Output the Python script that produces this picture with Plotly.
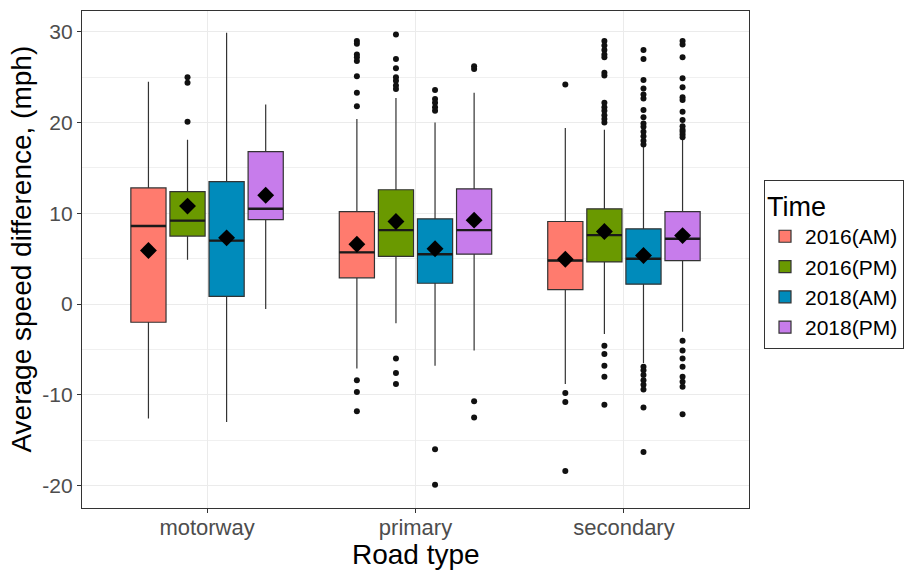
import plotly.graph_objects as go

categories = ["motorway", "primary", "secondary"]
groups = ["2016(AM)", "2016(PM)", "2018(AM)", "2018(PM)"]
colors = ["#FF7B6E", "#6A9900", "#008BBB", "#C77CEB"]
y_ticks = [-20, -10, 0, 10, 20, 30]
y_tick_labels = ["-20", "-10", "0", "10", "20", "30"]

# stats[group] = list over categories
q1 = {
    "2016(AM)": [-2.0, 2.9, 1.6],
    "2016(PM)": [7.5, 5.25, 4.65],
    "2018(AM)": [0.85, 2.3, 2.2],
    "2018(PM)": [9.3, 5.5, 4.8],
}
median = {
    "2016(AM)": [8.6, 5.7, 4.8],
    "2016(PM)": [9.2, 8.15, 7.6],
    "2018(AM)": [7.0, 5.5, 5.0],
    "2018(PM)": [10.5, 8.15, 7.2],
}
q3 = {
    "2016(AM)": [12.8, 10.2, 9.1],
    "2016(PM)": [12.4, 12.6, 10.5],
    "2018(AM)": [13.5, 9.4, 8.3],
    "2018(PM)": [16.8, 12.7, 10.2],
}
lower = {
    "2016(AM)": [-12.6, -7.1, -8.8],
    "2016(PM)": [4.9, -2.1, -3.3],
    "2018(AM)": [-13.0, -6.8, -6.5],
    "2018(PM)": [-0.55, -5.1, -3.05],
}
upper = {
    "2016(AM)": [24.5, 20.4, 19.4],
    "2016(PM)": [18.1, 22.7, 19.2],
    "2018(AM)": [29.9, 20.0, 17.3],
    "2018(PM)": [22.0, 23.3, 18.25],
}
means = {
    "2016(AM)": [5.9, 6.6, 4.95],
    "2016(PM)": [10.8, 9.1, 8.0],
    "2018(AM)": [7.3, 6.1, 5.35],
    "2018(PM)": [12.0, 9.25, 7.55],
}
outliers = {
    "2016(AM)": [
        [],
        [29.0, 28.7, 27.5, 27.2, 26.8, 25.1, 23.3, 21.8, -8.4, -9.7, -11.8],
        [24.2, -9.8, -10.8, -18.4],
    ],
    "2016(PM)": [
        [25.0, 24.4, 20.1],
        [29.7, 27.0, 26.0, 25.0, 24.6, 24.1, 23.7, -6.0, -7.6, -8.8],
        [29.0, 28.5, 28.0, 27.5, 27.2, 25.5, 25.2, 22.2, 21.7, 21.3, 20.8, 20.4, 20.0,
         -4.6, -5.5, -6.8, -8.0, -11.1],
    ],
    "2018(AM)": [
        [],
        [23.6, 22.6, 22.2, 21.7, 21.3, -16.0, -19.9],
        [28.0, 27.0, 24.7, 23.75, 23.1, 22.65, 21.4, 20.6, 19.9, 19.55, 19.0, 18.5, 18.0, 17.6,
         -6.9, -7.3, -7.8, -8.4, -8.9, -9.4, -11.4, -16.3],
    ],
    "2018(PM)": [
        [],
        [26.2, 25.9, -10.7, -12.5],
        [29.0, 28.6, 27.2, 24.9, 23.9, 22.8, 22.5, 21.2, 20.3, 19.6, 19.2, 19.0, 18.7, 18.4,
         -4.05, -5.1, -6.0, -6.9, -8.0, -8.55, -9.1, -12.15],
    ],
}

dodge = 0.75
n = len(groups)
slot = dodge / n
box_w = slot * 0.9
edge = "#333333"

fig = go.Figure()

for gi, g in enumerate(groups):
    pos = [ci + (gi - (n - 1) / 2) * slot for ci in range(len(categories))]
    fig.add_trace(go.Box(
        x=pos, q1=q1[g], median=median[g], q3=q3[g],
        lowerfence=lower[g], upperfence=upper[g],
        width=box_w, whiskerwidth=0, boxpoints=False,
        fillcolor=colors[gi], line=dict(color=edge, width=1.2),
        name=g, showlegend=True, hoverinfo="skip",
    ))
    # thicker median lines
    mx, my = [], []
    for ci, p in enumerate(pos):
        mx += [p - box_w / 2, p + box_w / 2, None]
        my += [median[g][ci], median[g][ci], None]
    fig.add_trace(go.Scatter(x=mx, y=my, mode="lines",
                             line=dict(color="#1a1a1a", width=2.4),
                             showlegend=False, hoverinfo="skip"))
    # outliers
    ox, oy = [], []
    for ci, p in enumerate(pos):
        for v in outliers[g][ci]:
            ox.append(p)
            oy.append(v)
    fig.add_trace(go.Scatter(x=ox, y=oy, mode="markers",
                             marker=dict(color="#111111", size=6),
                             showlegend=False, hoverinfo="skip"))
    # means
    fig.add_trace(go.Scatter(x=pos, y=means[g], mode="markers",
                             marker=dict(symbol="diamond", color="black", size=13),
                             showlegend=False, hoverinfo="skip"))

font_family = "Liberation Sans, Arial, sans-serif"

fig.update_layout(
    width=909, height=571,
    margin=dict(l=82, r=160, t=11, b=63, autoexpand=False),
    paper_bgcolor="white", plot_bgcolor="white",
    font=dict(family=font_family, color="black"),
    boxmode="overlay",
    xaxis=dict(
        range=[-0.6, 2.6], automargin=False,
        tickmode="array", tickvals=list(range(len(categories))), ticktext=categories,
        showgrid=True, gridcolor="#EBEBEB", gridwidth=1.2,
        showline=True, mirror=True, linecolor=edge, linewidth=1.2,
        ticks="outside", ticklen=4, tickcolor=edge,
        tickfont=dict(size=22, color="#4D4D4D"),
        ticklabelstandoff=-5,
        zeroline=False,
    ),
    yaxis=dict(
        range=[-22.47, 32.3], automargin=False,
        tickmode="array", tickvals=y_ticks, ticktext=y_tick_labels,
        showgrid=True, gridcolor="#EBEBEB", gridwidth=1.2,
        minor=dict(dtick=5, tick0=0, showgrid=True, gridcolor="#F0F0F0", gridwidth=1.1),
        showline=True, mirror=True, linecolor=edge, linewidth=1.2,
        ticks="outside", ticklen=4, tickcolor=edge,
        tickfont=dict(size=21, color="#4D4D4D"),
        zeroline=False,
    ),
    legend=dict(
        x=1.0225, xanchor="left", y=0.66, yanchor="top",
        bordercolor=edge, borderwidth=1,
        title=dict(text="Time", font=dict(size=27)),
        font=dict(size=21, color="black"),
        tracegroupgap=0,
    ),
    annotations=[
        dict(text="Road type", xref="paper", yref="paper", x=0.5, y=0,
             xanchor="center", yanchor="middle", yshift=-46, showarrow=False,
             font=dict(size=28, color="black")),
        dict(text="Average speed difference, (mph)", xref="paper", yref="paper",
             x=0, y=0.52, xanchor="center", yanchor="middle", xshift=-60,
             textangle=-90, showarrow=False, font=dict(size=28, color="black")),
    ],
)

fig.write_html(
    "out.html",
    config=dict(displayModeBar=False),
    post_script="document.body.style.margin='0';document.body.style.overflow='hidden';",
)
